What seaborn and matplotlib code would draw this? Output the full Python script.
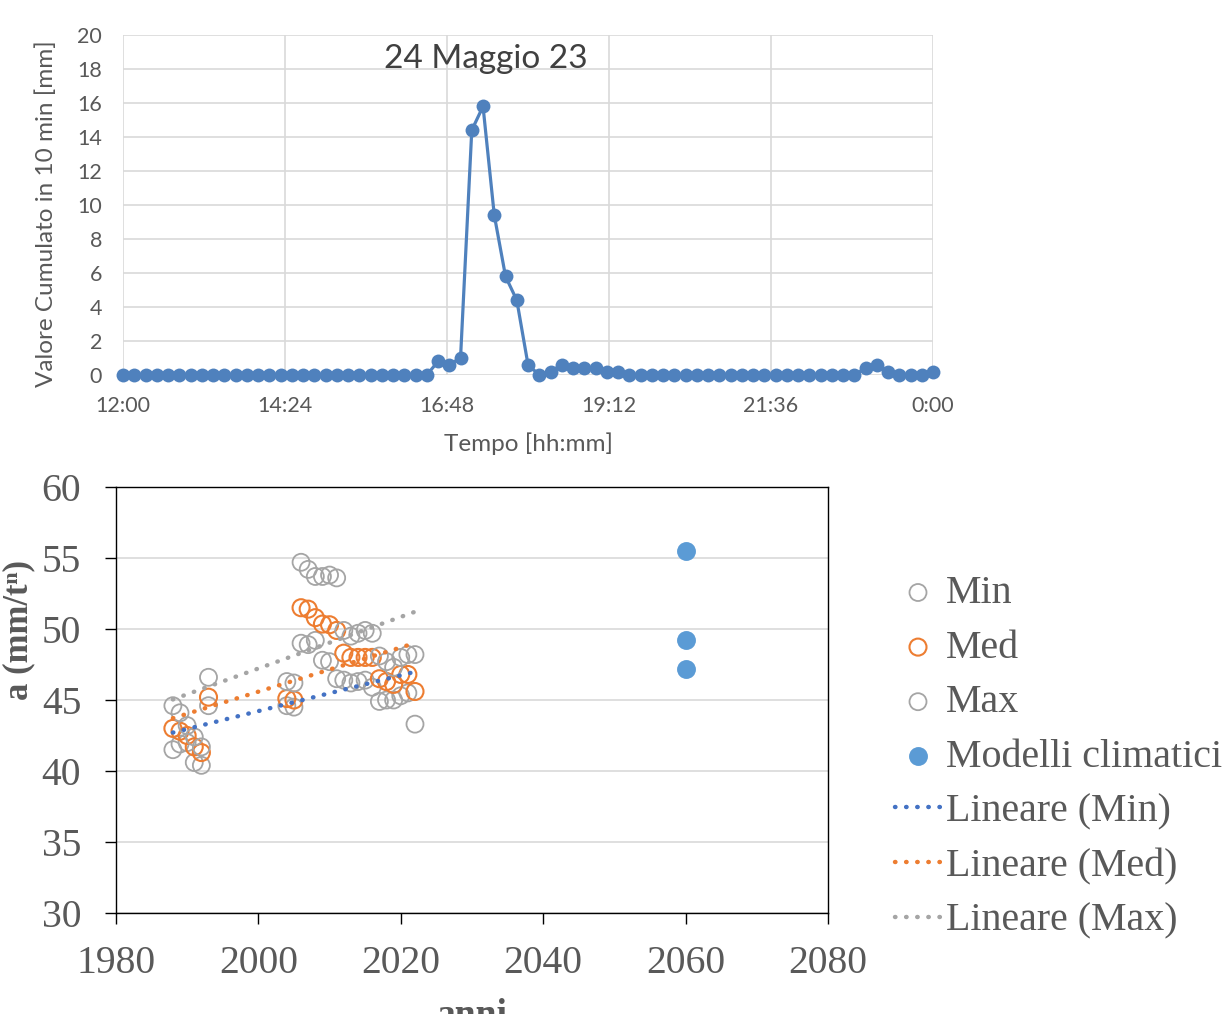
import numpy as np
import pandas as pd
import matplotlib
matplotlib.use("Agg")
import matplotlib.pyplot as plt
import seaborn as sns

# --- top chart: rain every 10 minutes, 24/05/2023 12:00 -> 24:00
rain_start = "2023-05-24 12:00"
rain_mm = ([0] * 28
           + [0.8, 0.6, 1.0, 14.4, 15.8, 9.4, 5.8, 4.4, 0.6, 0.0, 0.2, 0.6,
              0.4, 0.4, 0.4, 0.2, 0.2]
           + [0] * 21
           + [0.4, 0.6, 0.2, 0.0, 0.0, 0.0, 0.2])
time_ticks = ["12:00", "14:24", "16:48", "19:12", "21:36", "0:00"]
rain_yticks = [0, 2, 4, 6, 8, 10, 12, 14, 16, 18, 20]

# --- bottom chart: parameter a by year
years_obs = [1988, 1989, 1990, 1991, 1992, 1993] + list(range(2004, 2023))
a_min = [41.5, 41.9, 42.0, 40.6, 40.4, 44.6, 44.6, 44.5, 49.0, 48.9, 49.2, 47.8, 47.7,
         46.5, 46.4, 46.2, 46.3, 46.4, 45.9, 44.9, 45.0, 45.0, 45.3, 45.5, 43.3]
a_med = [43.0, 42.8, 42.5, 41.7, 41.3, 45.2, 45.1, 45.0, 51.5, 51.4, 50.8, 50.35, 50.3,
         49.9, 48.3, 48.0, 48.0, 48.0, 48.0, 46.5, 46.3, 46.1, 46.8, 46.8, 45.6]
a_max = [44.6, 44.1, 43.2, 42.4, 41.7, 46.6, 46.3, 46.2, 54.7, 54.2, 53.7, 53.7, 53.8,
         53.6, 49.9, 49.5, 49.7, 49.9, 49.7, 48.1, 47.7, 47.3, 48.0, 48.2, 48.2]
years_mod = [2060, 2060, 2060]
a_mod = [55.5, 49.2, 47.2]

sns.set_style("white")
grey_txt = "#595959"
grid_c = "#D9D9D9"
sans = ["Lato", "DejaVu Sans"]
serif = ["Liberation Serif", "DejaVu Serif"]

fig = plt.figure(figsize=(12.23, 10.14), dpi=100)

# ================= top chart =================
ax1 = fig.add_axes([0.1006, 0.6302, 0.6623, 0.3353])
times = pd.date_range(rain_start, periods=len(rain_mm), freq="10min")
sns.lineplot(x=times, y=rain_mm, ax=ax1, color="#4F81BD", linewidth=2.3,
             marker="o", markersize=10, markeredgewidth=0, clip_on=False)
ax1.set_xlim(times[0], times[-1])
ax1.set_ylim(0, 20)
ax1.set_xticks(pd.date_range(rain_start, periods=len(time_ticks), freq="144min"))
ax1.set_xticklabels(time_ticks)
ax1.set_yticks(rain_yticks)
ax1.grid(True, color=grid_c, linewidth=1.2)
ax1.set_axisbelow(True)
for s in ax1.spines.values():
    s.set_visible(False)
ax1.tick_params(length=0, labelsize=15.5, labelcolor=grey_txt)
ax1.tick_params(axis="y", pad=15)
ax1.tick_params(axis="x", pad=15)
for lab in ax1.get_xticklabels() + ax1.get_yticklabels():
    lab.set_fontfamily(sans)
ax1.set_ylabel("Valore Cumulato in 10 min [mm]", fontsize=17.5, color=grey_txt,
               fontfamily=sans)
ax1.set_xlabel("Tempo [hh:mm]", fontsize=17.5, color=grey_txt, fontfamily=sans)
ax1.yaxis.set_label_coords(-0.081, 0.476)
ax1.xaxis.set_label_coords(0.5, -0.17)
ax1.text(0.448, 0.928, "24 Maggio 23", transform=ax1.transAxes, ha="center",
         va="center", fontsize=24, color="#404040", fontfamily=sans)

# ================= bottom chart =================
ax2 = fig.add_axes([0.0948, 0.0996, 0.5822, 0.4201])
c_grey, c_orange, c_blue, c_mod = "#A5A5A5", "#ED7D31", "#4472C4", "#5B9BD5"
sns.scatterplot(x=years_obs, y=a_min, ax=ax2, s=150, color=c_grey, facecolor="none",
                edgecolor=c_grey, linewidth=1.3, label="Min", zorder=3)
sns.scatterplot(x=years_obs, y=a_med, ax=ax2, s=150, color=c_orange, facecolor="none",
                edgecolor=c_orange, linewidth=1.5, label="Med", zorder=3)
sns.scatterplot(x=years_obs, y=a_max, ax=ax2, s=150, color=c_grey, facecolor="none",
                edgecolor=c_grey, linewidth=1.3, label="Max", zorder=3)
sns.scatterplot(x=years_mod, y=a_mod, ax=ax2, s=185, color=c_mod, edgecolor=c_mod,
                linewidth=0, label="Modelli climatici", zorder=3)
dots = (0, (0.1, 2.4))
for yy, col, lab in [(a_min, c_blue, "Lineare (Min)"), (a_med, c_orange, "Lineare (Med)"),
                     (a_max, c_grey, "Lineare (Max)")]:
    sns.regplot(x=np.array(years_obs), y=np.array(yy), ax=ax2, scatter=False, ci=None,
                truncate=True, label=lab,
                line_kws=dict(color=col, linewidth=3.2, linestyle=dots,
                              dash_capstyle="round", zorder=4))

ax2.set_xlim(1980, 2080)
ax2.set_ylim(30, 60)
ax2.set_xticks([1980, 2000, 2020, 2040, 2060, 2080])
ax2.set_yticks([30, 35, 40, 45, 50, 55, 60])
ax2.yaxis.grid(True, color=grid_c, linewidth=1.2)
ax2.xaxis.grid(False)
ax2.set_axisbelow(True)
for s in ax2.spines.values():
    s.set_visible(True)
    s.set_color("black")
    s.set_linewidth(1.0)
ax2.tick_params(direction="out", length=8, width=1, color="black",
                labelsize=28.5, labelcolor=grey_txt)
ax2.tick_params(axis="y", pad=17, left=True)
ax2.tick_params(axis="x", pad=15, bottom=True)
for lab in ax2.get_xticklabels() + ax2.get_yticklabels():
    lab.set_fontfamily(serif)
ax2.set_ylabel("a (mm/tⁿ)", fontsize=25, fontweight="bold", color=grey_txt,
               fontfamily=serif)
ax2.set_xlabel("anni", fontsize=27, fontweight="bold", color=grey_txt,
               fontfamily=serif)
ax2.yaxis.set_label_coords(-0.113, 0.664)
ax2.xaxis.set_label_coords(0.5, -0.2)

# legend outside on the right, in the original order
order = ["Min", "Med", "Max", "Modelli climatici",
         "Lineare (Min)", "Lineare (Med)", "Lineare (Max)"]
h, l = ax2.get_legend_handles_labels()
hd = dict(zip(l, h))
if ax2.get_legend() is not None:
    ax2.get_legend().remove()
leg = fig.legend([hd[k] for k in order], order, loc="upper left",
                 bbox_to_anchor=(895 / 1223, 1 - 575 / 1014), frameon=False,
                 borderpad=0, borderaxespad=0, handlelength=1.15, handletextpad=0.12,
                 labelspacing=0.44, markerscale=1.0,
                 prop={"family": serif, "size": 28.8})
for t in leg.get_texts():
    t.set_color(grey_txt)

fig.savefig("out.png", dpi=100)
